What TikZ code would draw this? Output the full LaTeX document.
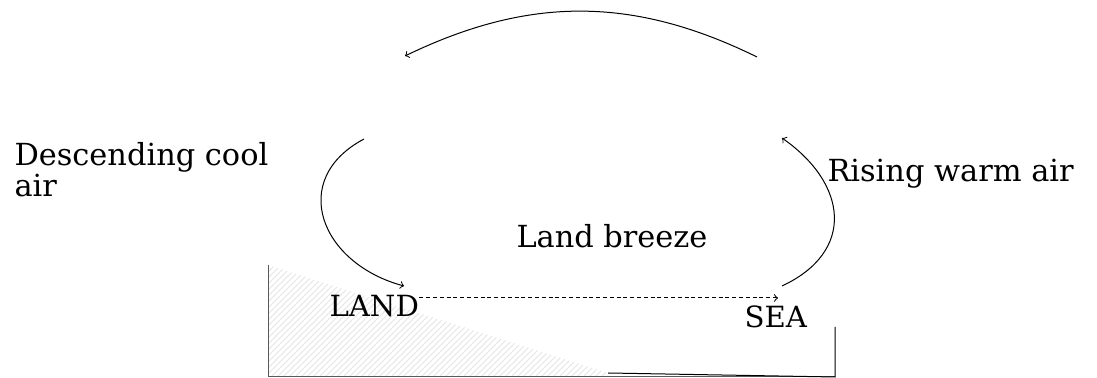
\documentclass[tikz,border=0pt]{standalone}
\usepackage{fontspec}
\setmainfont{DejaVu Serif}
\usetikzlibrary{patterns}
\begin{document}
\begin{tikzpicture}[->,x=0.5pt,y=0.5pt,inner sep=0pt,line width=0.5pt,font=\fontsize{15.2}{14.4}\selectfont]
\useasboundingbox (0,0) rectangle (1097,378);
% land and sea
\fill[pattern=north east lines,pattern color=gray!20,-] (268,113) -- (608,5) -- (608,1) -- (268,1) -- cycle;
\draw[gray!70!black,-] (268,113) -- (268,1) -- (835,1);
\draw[-] (608,5) -- (835,1) -- (835,51);
\coordinate(1) at (757,321); \coordinate(2) at (405,322);
\coordinate(3) at (364,239); \coordinate(4) at (404,92);
\coordinate(5) at (782,92); \coordinate(6) at (782,240);
\coordinate(7) at (778,80);
\node[anchor=base west,align=left](d) at (14,181) {Descending cool\\air};
\node[anchor=base west](r) at (827,196) {Rising warm air};
\node[anchor=base west](b) at (516,130) {Land breeze};
\node[anchor=base west,font=\fontsize{14.6}{14}\selectfont](l) at (329,61) {LAND};
\node[anchor=base west,font=\fontsize{14.6}{14}\selectfont](s) at (744,50) {SEA};
\path (1) edge [bend right=26] (2);
\path (3) edge [out=208,in=165,looseness=1.45] (4);
\path (5) edge [out=25,in=-35,looseness=1.4] (6);
\path (l.east |- 7) edge [dash pattern=on 2pt off 1.4pt] (7);
\end{tikzpicture}
\end{document}
